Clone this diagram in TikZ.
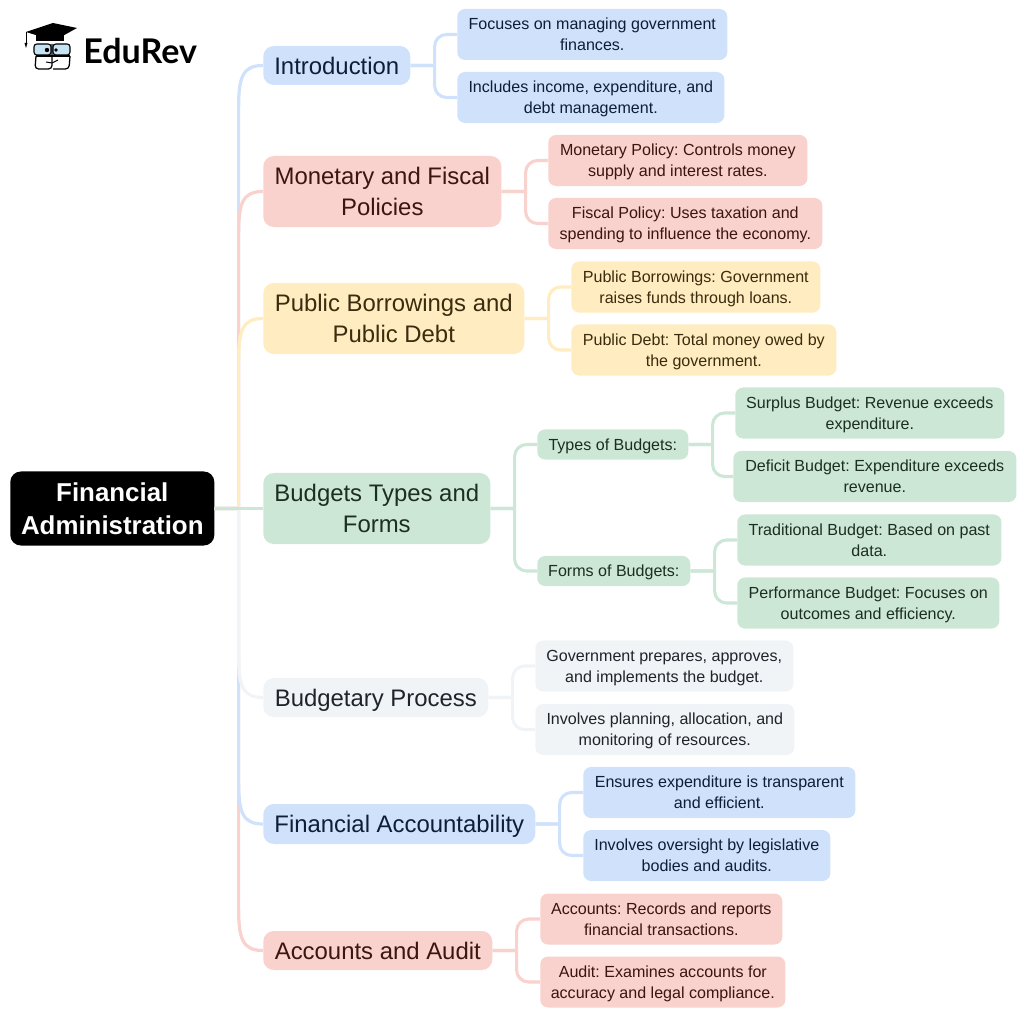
\documentclass[tikz,border=0pt]{standalone}
\usepackage{fontspec}
\setmainfont{Liberation Sans}
\newfontfamily\logofont{Lato}
\usetikzlibrary{calc, positioning}
\usepackage{xcolor}
\definecolor{blueFill}{HTML}{D0E2FB}
\definecolor{redFill}{HTML}{F9D1CD}
\definecolor{yellowFill}{HTML}{FFECC0}
\definecolor{greenFill}{HTML}{CDE7D6}
\definecolor{grayFill}{HTML}{F1F4F6}
\definecolor{blueText}{HTML}{0E1E3A}
\definecolor{redText}{HTML}{3A1512}
\definecolor{yellowText}{HTML}{3A2C0E}
\definecolor{greenText}{HTML}{1C2E20}
\definecolor{grayText}{HTML}{20242A}
\definecolor{glassBlue}{HTML}{C4E4F4}
\frenchspacing

\begin{document}
\begin{tikzpicture}[x=0.025cm, y=-0.025cm, line join=round]
	\tikzstyle{root} = [fill=black, text=white, rounded corners=7.5pt, anchor=west, inner sep=0pt, align=center, text depth=0pt, font=\fontsize{18.4}{24}\selectfont\bfseries]
	\tikzstyle{branch} = [rounded corners=7.5pt, anchor=west, inner sep=0pt, align=center, text depth=0pt, font=\fontsize{17}{22}\selectfont]
	\tikzstyle{leaf} = [rounded corners=5.5pt, anchor=west, inner sep=0pt, align=center, text depth=0pt, font=\fontsize{11.42}{15}\selectfont]
	\tikzstyle{link} = [line width=2.2pt, rounded corners=8.5pt, to path={(\tikztostart.east) -- ++(24,0) ++(0,0) |- (\tikztotarget.west)}]
	\tikzstyle{trunk} = [line width=2.3pt, to path={let \p1=(\tikztostart.east), \p2=(\tikztotarget.west), \n1={abs(\y2-\y1)<2 ? 0 : (\y2>\y1 ? 1 : -1)} in
		(\p1) -- (\x1+17.07pt,\y1) -- (\x1+17.07pt,\y2-\n1*29.9pt) .. controls (\x1+17.07pt,\y2-\n1*8pt) and (\x1+20pt,\y2) .. (\p2)}]
	\tikzstyle{blue} = [fill=blueFill, text=blueText]
	\tikzstyle{red} = [fill=redFill, text=redText]
	\tikzstyle{yellow} = [fill=yellowFill, text=yellowText]
	\tikzstyle{green} = [fill=greenFill, text=greenText]
	\tikzstyle{gray} = [fill=grayFill, text=grayText]

	\useasboundingbox (0,0) rectangle (1024,1016);

	% logo
	\node[anchor=west, inner sep=0pt, font=\fontsize{24.2}{30}\logofont\bfseries] at (83,51) (eduRev) {EduRev};
	\fill[black] (26,32) -- (53,23) -- (77,28) -- (59,38) -- (39,36) -- cycle;
	\fill[black] (36,35) -- (64,35) -- (64,41) -- (36,41) -- cycle;
	\draw[line width=0.7pt] (26,32) -- (26,45);
	\fill[black] (24.5,43) -- (27.5,43) -- (26,48) -- cycle;
	\draw[line width=0.8pt, fill=glassBlue, rounded corners=2pt] (34,44) rectangle (51,55);
	\draw[line width=0.8pt, fill=glassBlue, rounded corners=2pt] (53,44) rectangle (70,55);
	\fill[black] (47,50) circle (2.2);
	\fill[black] (56,50) circle (1.8);
	\draw[line width=0.9pt, rounded corners=2.5pt] (36,56) -- (35,69) -- (52,69) -- (52,44);
	\draw[line width=0.9pt, rounded corners=2.5pt] (53,69) -- (69,69) -- (70,56);
	\draw[line width=0.9pt] (36,56) -- (70,56);
	\draw[line width=0.7pt] (46,62) -- (52,63) -- (58,60);

	% main nodes
	\node[root, minimum width=204*0.7113pt, minimum height=74*0.7113pt] at (10,508.5) (fin) {Financial\\Administration};

	\node[branch, blue, minimum width=147*0.7113pt, minimum height=39*0.7113pt] at (263,65.5) (intro) {Introduction};
	\node[branch, red, minimum width=238*0.7113pt, minimum height=71*0.7113pt] at (263,191.5) (mon) {Monetary and Fiscal\\Policies};
	\node[branch, yellow, minimum width=261*0.7113pt, minimum height=71*0.7113pt] at (263,318.5) (pub) {Public Borrowings and\\Public Debt};
	\node[branch, green, minimum width=227*0.7113pt, minimum height=71*0.7113pt] at (263,508.5) (bud) {Budgets Types and\\Forms};
	\node[branch, gray, minimum width=225*0.7113pt, minimum height=39*0.7113pt] at (263,697.5) (proc) {Budgetary Process};
	\node[branch, blue, minimum width=272*0.7113pt, minimum height=40*0.7113pt] at (263,824) (acct) {Financial Accountability};
	\node[branch, red, minimum width=229*0.7113pt, minimum height=39*0.7113pt] at (263,950.5) (audit) {Accounts and Audit};

	% leaves
	\node[leaf, blue, minimum width=270*0.7113pt, minimum height=51*0.7113pt] at (457,34.5) (intro1) {Focuses on managing government\\finances.};
	\node[leaf, blue, minimum width=267*0.7113pt, minimum height=51*0.7113pt] at (457,97.5) (intro2) {Includes income, expenditure, and\\debt management.};
	\node[leaf, red, minimum width=259*0.7113pt, minimum height=51*0.7113pt] at (548,160.5) (mon1) {Monetary Policy: Controls money\\supply and interest rates.};
	\node[leaf, red, minimum width=274*0.7113pt, minimum height=51*0.7113pt] at (548,223.5) (mon2) {Fiscal Policy: Uses taxation and\\spending to influence the economy.};
	\node[leaf, yellow, minimum width=249*0.7113pt, minimum height=51*0.7113pt] at (571,287) (pub1) {Public Borrowings: Government\\raises funds through loans.};
	\node[leaf, yellow, minimum width=265*0.7113pt, minimum height=51*0.7113pt] at (571,350) (pub2) {Public Debt: Total money owed by\\the government.};
	\node[leaf, green, minimum width=151*0.7113pt, minimum height=30*0.7113pt] at (537,444.5) (types) {Types of Budgets:};
	\node[leaf, green, minimum width=153*0.7113pt, minimum height=30*0.7113pt] at (537,571) (forms) {Forms of Budgets:};
	\node[leaf, green, minimum width=269*0.7113pt, minimum height=51*0.7113pt] at (735,413) (surplus) {Surplus Budget: Revenue exceeds\\expenditure.};
	\node[leaf, green, minimum width=283*0.7113pt, minimum height=51*0.7113pt] at (733,476.5) (deficit) {Deficit Budget: Expenditure exceeds\\revenue.};
	\node[leaf, green, minimum width=264*0.7113pt, minimum height=51*0.7113pt] at (737,540) (trad) {Traditional Budget: Based on past\\data.};
	\node[leaf, green, minimum width=262*0.7113pt, minimum height=51*0.7113pt] at (737,603) (perf) {Performance Budget: Focuses on\\outcomes and efficiency.};
	\node[leaf, gray, minimum width=258*0.7113pt, minimum height=51*0.7113pt] at (535,666) (proc1) {Government prepares, approves,\\and implements the budget.};
	\node[leaf, gray, minimum width=259*0.7113pt, minimum height=51*0.7113pt] at (535,729.5) (proc2) {Involves planning, allocation, and\\monitoring of resources.};
	\node[leaf, blue, minimum width=272*0.7113pt, minimum height=51*0.7113pt] at (583,792.5) (acct1) {Ensures expenditure is transparent\\and efficient.};
	\node[leaf, blue, minimum width=247*0.7113pt, minimum height=51*0.7113pt] at (583,855.5) (acct2) {Involves oversight by legislative\\bodies and audits.};
	\node[leaf, red, minimum width=242*0.7113pt, minimum height=51*0.7113pt] at (540,919) (audit1) {Accounts: Records and reports\\financial transactions.};
	\node[leaf, red, minimum width=245*0.7113pt, minimum height=51*0.7113pt] at (540,982) (audit2) {Audit: Examines accounts for\\accuracy and legal compliance.};

	\path[trunk]
	(fin)	edge [blueFill]		(intro)
	(fin)	edge [redFill]		(mon)
	(fin)	edge [yellowFill]	(pub)
	(fin)	edge [redFill]		(audit)
	(fin)	edge [blueFill]		(acct)
	(fin)	edge [grayFill]		(proc)
	(fin)	edge [greenFill]	(bud);

	\path[link]
	(intro)	edge [blueFill]		(intro1)
	(intro)	edge [blueFill]		(intro2)
	(mon)	edge [redFill]		(mon1)
	(mon)	edge [redFill]		(mon2)
	(pub)	edge [yellowFill]	(pub1)
	(pub)	edge [yellowFill]	(pub2)
	(bud)	edge [greenFill]	(types)
	(bud)	edge [greenFill]	(forms)
	(types)	edge [greenFill]	(surplus)
	(types)	edge [greenFill]	(deficit)
	(forms)	edge [greenFill]	(trad)
	(forms)	edge [greenFill]	(perf)
	(proc)	edge [grayFill]		(proc1)
	(proc)	edge [grayFill]		(proc2)
	(acct)	edge [blueFill]		(acct1)
	(acct)	edge [blueFill]		(acct2)
	(audit)	edge [redFill]		(audit1)
	(audit)	edge [redFill]		(audit2);
\end{tikzpicture}
\end{document}
